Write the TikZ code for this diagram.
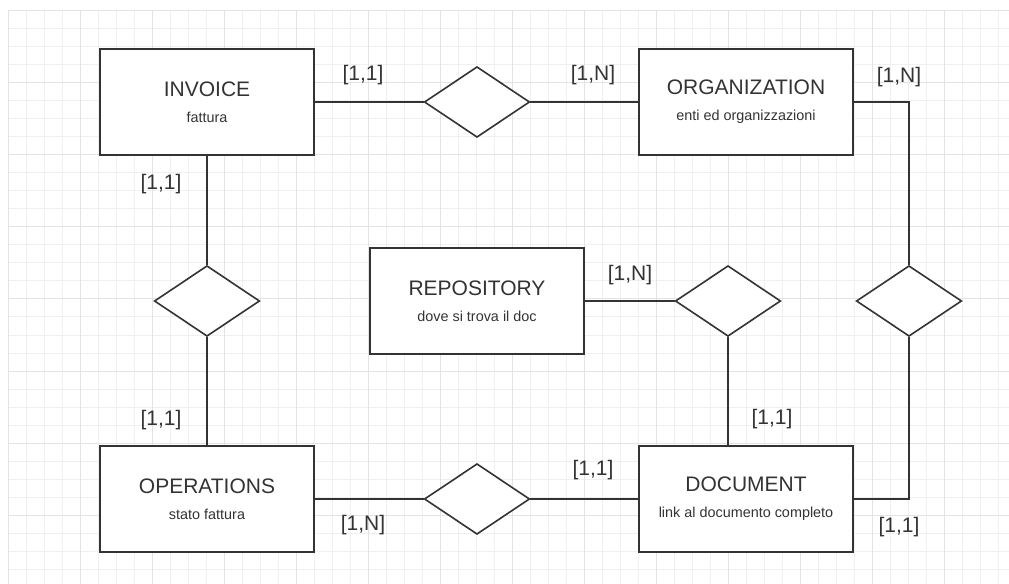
\documentclass[tikz,border=0pt]{standalone}
\usepackage{fontspec}
\setmainfont{Liberation Sans}
\usetikzlibrary{shapes.geometric}
\definecolor{gridminor}{HTML}{F0F0F0}
\definecolor{gridmajor}{HTML}{E3E3E3}
\definecolor{ink}{HTML}{333333}
\newcommand\subtxt[1]{{\fontsize{10.8}{13}\selectfont #1}}
\tikzset{
	entity/.style={draw=ink, line width=1.5pt, fill=white, minimum width=160pt, minimum height=80pt,
		inner sep=0pt, align=center, text=ink, font=\fontsize{15.75}{19.5}\selectfont},
	relation/.style={diamond, draw=ink, line width=1.2pt, fill=white, minimum width=79pt,
		minimum height=53pt, inner sep=0pt},
	card/.style={text=ink, inner sep=0pt, font=\fontsize{15.75}{19}\selectfont},
	link/.style={draw=ink, line width=1.5pt}
}
\begin{document}
\begin{tikzpicture}[x=0.75pt, y=-0.75pt]
		\useasboundingbox[fill=white] (0,0) rectangle (1009,584);
		% grid
		\foreach \x in {8,26,...,1008} \draw[gridminor, line width=0.75pt] (\x,11)--(\x,584);
		\foreach \y in {11,29,...,583} \draw[gridminor, line width=0.75pt] (8,\y)--(1009,\y);
		\foreach \x in {8,80,...,1008} \draw[gridmajor, line width=0.75pt] (\x,11)--(\x,584);
		\foreach \y in {11,83,...,583} \draw[gridmajor, line width=0.75pt] (8,\y)--(1009,\y);
		% entities
		\node[entity] (invoice) at (207,102) {INVOICE\\\subtxt{fattura}};
		\node[entity] (organization) at (746,102) {ORGANIZATION\\\subtxt{enti ed organizzazioni}};
		\node[entity] (repository) at (477,301) {REPOSITORY\\\subtxt{dove si trova il doc}};
		\node[entity] (operations) at (207,499) {OPERATIONS\\\subtxt{stato fattura}};
		\node[entity] (document) at (746,499) {DOCUMENT\\\subtxt{link al documento completo}};
		% relations
		\node[relation] (rel-io) at (477,102) {};
		\node[relation] (rel-iop) at (207,301) {};
		\node[relation] (rel-rd) at (728,301) {};
		\node[relation] (rel-od) at (909,301) {};
		\node[relation] (rel-opd) at (477,499) {};
		% connectors
		\draw[link] (invoice) -- (rel-io) -- (organization);
		\draw[link] (invoice) -- (rel-iop) -- (operations);
		\draw[link] (operations) -- (rel-opd) -- (document);
		\draw[link] (repository) -- (rel-rd);
		\draw[link] (rel-rd.south) -- (rel-rd.south |- document.north);
		\draw[link] (organization.east) -| (rel-od.north);
		\draw[link] (rel-od.south) |- (document.east);
		% cardinalities
		\node[card] (c-io1) at (363,75) {[1,1]};
		\node[card] (c-io2) at (593,75) {[1,N]};
		\node[card] (c-od1) at (899,77) {[1,N]};
		\node[card] (c-iop1) at (161,184) {[1,1]};
		\node[card] (c-iop2) at (161,420) {[1,1]};
		\node[card] (c-rd1) at (630,275) {[1,N]};
		\node[card] (c-rd2) at (772,419) {[1,1]};
		\node[card] (c-od2) at (899,527) {[1,1]};
		\node[card] (c-opd1) at (593,470) {[1,1]};
		\node[card] (c-opd2) at (363,525) {[1,N]};
	\end{tikzpicture}
\end{document}
